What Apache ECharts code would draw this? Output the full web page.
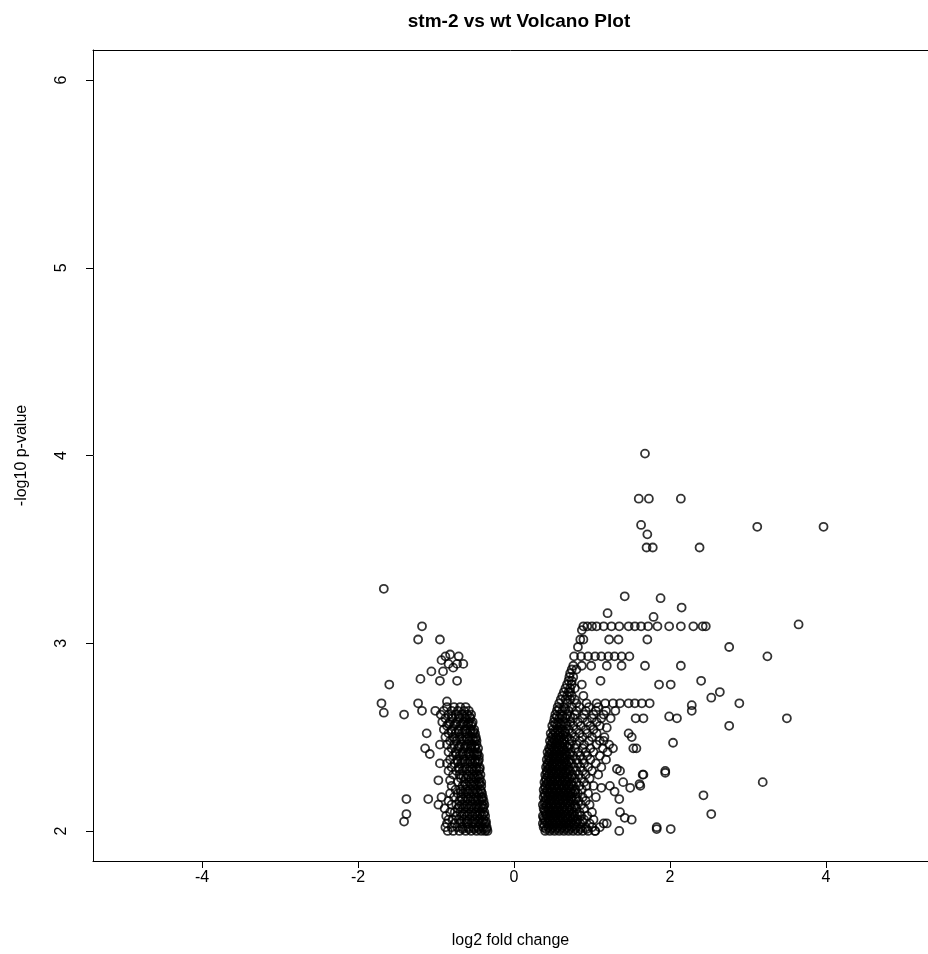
<!DOCTYPE html>
<html>
<head>
<meta charset="utf-8">
<script src="https://cdn.jsdelivr.net/npm/echarts@6/dist/echarts.min.js"></script>
<style>
  html, body { margin: 0; padding: 0; background: #fff; }
  #chart { width: 928px; height: 954px; }
</style>
</head>
<body>
<div id="chart"></div>
<script>
// tick labels
const xTicks = [-4, -2, 0, 2, 4];
const yTicks = [2, 3, 4, 5, 6];

// down-regulated core, rows of [ -log10 p, [log2 fold change ...] ]
const downRows = [
  [2.00, [-0.85, -0.78, -0.70, -0.62, -0.55, -0.48, -0.42, -0.37, -0.34]],
  [2.02, [-0.88, -0.80, -0.73, -0.66, -0.59, -0.52, -0.46, -0.40, -0.35]],
  [2.04, [-0.86, -0.76, -0.69, -0.61, -0.54, -0.49, -0.43, -0.38, -0.36]],
  [2.06, [-0.84, -0.79, -0.71, -0.64, -0.57, -0.50, -0.44, -0.39]],
  [2.08, [-0.87, -0.74, -0.67, -0.60, -0.53, -0.47, -0.41, -0.37]],
  [2.10, [-0.82, -0.76, -0.69, -0.62, -0.55, -0.49, -0.43, -0.38]],
  [2.12, [-0.89, -0.72, -0.65, -0.58, -0.51, -0.45, -0.40]],
  [2.14, [-0.80, -0.74, -0.67, -0.60, -0.54, -0.47, -0.41, -0.38]],
  [2.16, [-0.84, -0.70, -0.63, -0.56, -0.50, -0.44, -0.39]],
  [2.18, [-0.77, -0.68, -0.61, -0.55, -0.48, -0.42, -0.40]],
  [2.20, [-0.82, -0.72, -0.65, -0.58, -0.51, -0.45, -0.41]],
  [2.22, [-0.75, -0.69, -0.62, -0.56, -0.49, -0.43]],
  [2.24, [-0.80, -0.66, -0.60, -0.53, -0.47, -0.42]],
  [2.26, [-0.72, -0.64, -0.57, -0.51, -0.45, -0.42]],
  [2.28, [-0.68, -0.62, -0.55, -0.49, -0.44]],
  [2.30, [-0.78, -0.70, -0.60, -0.53, -0.47, -0.43]],
  [2.32, [-0.84, -0.74, -0.66, -0.58, -0.51, -0.45]],
  [2.34, [-0.80, -0.71, -0.63, -0.56, -0.49, -0.44]],
  [2.36, [-0.86, -0.76, -0.68, -0.60, -0.53, -0.47]],
  [2.38, [-0.82, -0.73, -0.65, -0.57, -0.50, -0.45]],
  [2.40, [-0.78, -0.70, -0.62, -0.55, -0.48, -0.45]],
  [2.42, [-0.84, -0.75, -0.66, -0.59, -0.52, -0.47]],
  [2.44, [-0.80, -0.72, -0.64, -0.56, -0.50, -0.46]],
  [2.46, [-0.86, -0.77, -0.68, -0.61, -0.54, -0.48]],
  [2.48, [-0.82, -0.74, -0.65, -0.58, -0.51, -0.48]],
  [2.50, [-0.88, -0.78, -0.70, -0.62, -0.55, -0.49]],
  [2.52, [-0.84, -0.75, -0.67, -0.60, -0.53, -0.50]],
  [2.54, [-0.90, -0.80, -0.71, -0.63, -0.56, -0.51]],
  [2.56, [-0.86, -0.77, -0.69, -0.61, -0.55]],
  [2.58, [-0.92, -0.82, -0.73, -0.65, -0.58, -0.53]],
  [2.60, [-0.88, -0.79, -0.70, -0.62, -0.56]],
  [2.62, [-0.94, -0.84, -0.75, -0.67, -0.60, -0.55]],
  [2.64, [-0.90, -0.80, -0.72, -0.64, -0.58]],
  [2.66, [-0.86, -0.77, -0.69, -0.62]]
];

// more down-regulated genes packed in the densest part
const downRowsB = [
  [2.01, [-0.66, -0.58, -0.51, -0.45, -0.39, -0.35]],
  [2.05, [-0.68, -0.60, -0.52, -0.46, -0.41, -0.36]],
  [2.09, [-0.64, -0.57, -0.50, -0.44, -0.39]],
  [2.13, [-0.70, -0.62, -0.55, -0.48, -0.43, -0.39]],
  [2.17, [-0.66, -0.59, -0.52, -0.46, -0.41]],
  [2.21, [-0.68, -0.60, -0.53, -0.47, -0.42]],
  [2.25, [-0.62, -0.55, -0.49, -0.44]],
  [2.29, [-0.65, -0.58, -0.51, -0.46]],
  [2.33, [-0.70, -0.61, -0.54, -0.48, -0.44]],
  [2.37, [-0.72, -0.63, -0.56, -0.50, -0.46]],
  [2.41, [-0.74, -0.66, -0.58, -0.51, -0.47]],
  [2.45, [-0.70, -0.62, -0.55, -0.50]],
  [2.49, [-0.76, -0.67, -0.60, -0.53, -0.49]],
  [2.53, [-0.80, -0.71, -0.63, -0.56, -0.52]],
  [2.57, [-0.84, -0.75, -0.66, -0.59, -0.54]],
  [2.61, [-0.80, -0.71, -0.63, -0.57]]
];

// down-regulated genes outside the core, [log2 fc, -log10 p]
const downSparse = [
  [-1.67, 3.29], [-1.18, 3.09], [-1.23, 3.02], [-0.95, 3.02],
  [-0.88, 2.93], [-0.82, 2.94], [-0.71, 2.93], [-0.93, 2.91], [-0.84, 2.89],
  [-0.73, 2.89], [-0.65, 2.89], [-0.78, 2.87], [-1.06, 2.85], [-0.91, 2.85],
  [-0.95, 2.80], [-0.73, 2.80], [-1.20, 2.81], [-1.60, 2.78],
  [-1.70, 2.68], [-1.67, 2.63], [-1.41, 2.62], [-1.23, 2.68], [-1.18, 2.64],
  [-1.01, 2.64], [-0.86, 2.69], [-1.12, 2.52], [-1.14, 2.44], [-1.08, 2.41],
  [-0.95, 2.36], [-0.95, 2.46], [-0.97, 2.27], [-0.82, 2.27], [-1.38, 2.17],
  [-1.10, 2.17], [-0.97, 2.14], [-0.93, 2.18], [-1.38, 2.09], [-1.41, 2.05]
];

// up-regulated core, rows of [ -log10 p, [log2 fold change ...] ]
const upRows = [
  [2.00, [0.40, 0.46, 0.52, 0.58, 0.64, 0.70, 0.76, 0.82, 0.88, 0.95, 1.04]],
  [2.02, [0.38, 0.44, 0.50, 0.56, 0.62, 0.68, 0.74, 0.80, 0.86, 0.92, 1.00, 1.10]],
  [2.04, [0.37, 0.43, 0.49, 0.55, 0.61, 0.67, 0.73, 0.79, 0.85, 0.97]],
  [2.06, [0.39, 0.45, 0.51, 0.57, 0.63, 0.69, 0.75, 0.82, 0.90, 1.02]],
  [2.08, [0.37, 0.42, 0.48, 0.54, 0.60, 0.66, 0.72, 0.78, 0.86, 0.94]],
  [2.10, [0.40, 0.46, 0.52, 0.58, 0.64, 0.70, 0.76, 0.84, 1.00]],
  [2.12, [0.38, 0.44, 0.50, 0.56, 0.62, 0.68, 0.74, 0.80, 0.90]],
  [2.14, [0.37, 0.42, 0.48, 0.54, 0.60, 0.66, 0.72, 0.78, 0.86, 0.97]],
  [2.16, [0.40, 0.46, 0.52, 0.58, 0.64, 0.70, 0.76, 0.83, 0.92]],
  [2.18, [0.38, 0.44, 0.50, 0.56, 0.62, 0.68, 0.74, 0.80, 0.88, 1.05]],
  [2.20, [0.39, 0.45, 0.51, 0.57, 0.63, 0.69, 0.75, 0.82, 0.95]],
  [2.22, [0.38, 0.43, 0.49, 0.55, 0.61, 0.67, 0.73, 0.79, 0.87]],
  [2.24, [0.40, 0.46, 0.52, 0.58, 0.64, 0.70, 0.76, 0.84, 0.93, 1.02]],
  [2.26, [0.39, 0.44, 0.50, 0.56, 0.62, 0.68, 0.74, 0.80, 0.90]],
  [2.28, [0.41, 0.47, 0.53, 0.59, 0.65, 0.71, 0.78, 0.86, 0.97]],
  [2.30, [0.40, 0.45, 0.51, 0.57, 0.63, 0.69, 0.75, 0.83, 0.92, 1.08]],
  [2.32, [0.42, 0.48, 0.54, 0.60, 0.66, 0.72, 0.80, 0.88, 1.00]],
  [2.34, [0.41, 0.46, 0.52, 0.58, 0.64, 0.70, 0.77, 0.85, 0.95, 1.12]],
  [2.36, [0.43, 0.49, 0.55, 0.61, 0.67, 0.74, 0.82, 0.90, 1.05]],
  [2.38, [0.42, 0.47, 0.53, 0.59, 0.65, 0.72, 0.80, 0.88, 0.98, 1.18]],
  [2.40, [0.44, 0.50, 0.56, 0.62, 0.68, 0.76, 0.85, 0.94, 1.10]],
  [2.42, [0.43, 0.48, 0.54, 0.60, 0.66, 0.73, 0.82, 0.92, 1.02, 1.20]],
  [2.44, [0.45, 0.51, 0.57, 0.63, 0.70, 0.78, 0.88, 0.98, 1.14]],
  [2.46, [0.47, 0.53, 0.59, 0.65, 0.72, 0.80, 0.90, 1.06, 1.22]],
  [2.48, [0.46, 0.52, 0.58, 0.64, 0.74, 0.84, 0.96, 1.10]],
  [2.50, [0.48, 0.54, 0.60, 0.68, 0.78, 0.88, 1.00, 1.16]],
  [2.52, [0.47, 0.53, 0.59, 0.66, 0.74, 0.84, 0.94, 1.06]],
  [2.54, [0.50, 0.56, 0.62, 0.70, 0.80, 0.92, 1.02]],
  [2.56, [0.49, 0.55, 0.61, 0.68, 0.76, 0.86, 0.98, 1.10]],
  [2.58, [0.51, 0.57, 0.64, 0.72, 0.82, 0.94, 1.06]],
  [2.60, [0.52, 0.58, 0.66, 0.76, 0.88, 1.00, 1.12, 1.24]],
  [2.62, [0.53, 0.60, 0.68, 0.78, 0.90, 1.02, 1.15]],
  [2.64, [0.55, 0.62, 0.70, 0.80, 0.92, 1.05, 1.18, 1.30]],
  [2.66, [0.56, 0.64, 0.74, 0.84, 0.96, 1.08]],
  [2.68, [0.58, 0.68, 0.80, 0.93, 1.06, 1.17, 1.27, 1.36, 1.47, 1.55, 1.64, 1.74]],
  [2.70, [0.60, 0.66, 0.72, 0.78]],
  [2.72, [0.62, 0.68, 0.74, 0.89]],
  [2.74, [0.64, 0.70, 0.72]],
  [2.76, [0.66, 0.72, 0.78]],
  [2.78, [0.68, 0.74, 0.87]],
  [2.80, [0.70, 0.74]],
  [2.82, [0.71, 0.76]],
  [2.84, [0.72]],
  [2.86, [0.74, 0.80]],
  [2.88, [0.76, 0.87, 0.99, 1.19, 1.38, 1.68, 2.14]],
  [2.93, [0.77, 0.86, 0.95, 1.04, 1.12, 1.21, 1.29, 1.38, 1.48]],
  [2.98, [0.82]],
  [3.02, [0.85, 0.89, 1.22, 1.34, 1.71]],
  [3.07, [0.87]],
  [3.09, [0.89, 0.94, 1.00, 1.06, 1.15, 1.25, 1.35, 1.47, 1.55, 1.63, 1.72, 1.84, 1.99, 2.14, 2.30, 2.42, 2.46]]
];

// more up-regulated genes packed in the densest part
const upRowsB = [
  [2.01, [0.41, 0.47, 0.53, 0.59, 0.65, 0.71, 0.78, 0.85]],
  [2.03, [0.39, 0.45, 0.51, 0.57, 0.63, 0.70, 0.77]],
  [2.05, [0.40, 0.46, 0.53, 0.59, 0.66, 0.73, 0.80, 0.88]],
  [2.07, [0.38, 0.44, 0.50, 0.56, 0.62, 0.69, 0.76]],
  [2.09, [0.41, 0.47, 0.53, 0.60, 0.67, 0.74, 0.81]],
  [2.11, [0.39, 0.45, 0.51, 0.57, 0.64, 0.71]],
  [2.13, [0.41, 0.47, 0.53, 0.59, 0.65, 0.72, 0.79]],
  [2.15, [0.39, 0.45, 0.51, 0.57, 0.63, 0.69]],
  [2.17, [0.41, 0.47, 0.53, 0.59, 0.66, 0.73, 0.80]],
  [2.19, [0.40, 0.46, 0.52, 0.59, 0.65, 0.71]],
  [2.21, [0.42, 0.48, 0.54, 0.60, 0.66, 0.72, 0.78]],
  [2.23, [0.40, 0.46, 0.52, 0.58, 0.64, 0.71]],
  [2.25, [0.42, 0.48, 0.55, 0.61, 0.67, 0.73]],
  [2.27, [0.41, 0.47, 0.53, 0.59, 0.66]],
  [2.29, [0.43, 0.49, 0.55, 0.62, 0.68, 0.74]],
  [2.31, [0.42, 0.48, 0.54, 0.60, 0.67]],
  [2.33, [0.44, 0.50, 0.56, 0.62, 0.69]],
  [2.35, [0.43, 0.49, 0.55, 0.62, 0.68]],
  [2.37, [0.45, 0.51, 0.57, 0.64, 0.70]],
  [2.39, [0.45, 0.51, 0.58, 0.64]],
  [2.41, [0.46, 0.52, 0.58, 0.65, 0.71]],
  [2.43, [0.46, 0.52, 0.58, 0.64]],
  [2.45, [0.48, 0.55, 0.61, 0.68]],
  [2.47, [0.49, 0.55, 0.62]],
  [2.49, [0.50, 0.57, 0.64, 0.71]],
  [2.51, [0.50, 0.57, 0.63]],
  [2.53, [0.52, 0.58, 0.65]],
  [2.57, [0.53, 0.60, 0.66]],
  [2.61, [0.55, 0.62, 0.72]],
  [2.65, [0.58, 0.66]]
];

// up-regulated genes outside the core, [log2 fc, -log10 p]
const upSparse = [
  [1.68, 4.01], [1.60, 3.77], [1.73, 3.77], [2.14, 3.77], [1.63, 3.63],
  [1.71, 3.58], [1.70, 3.51], [1.78, 3.51], [2.38, 3.51], [3.12, 3.62],
  [3.97, 3.62], [1.42, 3.25], [1.88, 3.24], [2.15, 3.19], [1.20, 3.16],
  [1.79, 3.14], [3.65, 3.10], [2.76, 2.98], [3.25, 2.93], [1.11, 2.80],
  [1.86, 2.78], [2.01, 2.78], [2.40, 2.80], [2.64, 2.74], [2.53, 2.71],
  [2.89, 2.68], [2.28, 2.67], [2.28, 2.64], [1.56, 2.60], [1.66, 2.60],
  [1.99, 2.61], [2.09, 2.60], [3.50, 2.60], [2.76, 2.56], [2.04, 2.47],
  [1.47, 2.52], [1.51, 2.50], [1.53, 2.44], [1.57, 2.44], [1.19, 2.55],
  [1.15, 2.48], [1.27, 2.44], [1.94, 2.31], [1.94, 2.32], [1.65, 2.30],
  [1.61, 2.25], [1.36, 2.32], [1.40, 2.26], [1.49, 2.23], [3.19, 2.26],
  [2.43, 2.19], [2.53, 2.09], [1.35, 2.00], [1.83, 2.01], [2.01, 2.01],
  [1.29, 2.21], [1.35, 2.17], [1.36, 2.10], [1.42, 2.07], [1.51, 2.06],
  [1.15, 2.04], [1.04, 2.00], [0.93, 2.01], [1.32, 2.33], [1.62, 2.24],
  [1.66, 2.30], [1.12, 2.23], [1.23, 2.24], [1.19, 2.04], [1.83, 2.02]
];

function flatten(rows) {
  const out = [];
  rows.forEach(function (r) {
    r[1].forEach(function (x) { out.push([x, r[0]]); });
  });
  return out;
}

const points = flatten(downRows).concat(flatten(downRowsB), downSparse,
  flatten(upRows), flatten(upRowsB), upSparse);

const font = 'Liberation Sans, Arial, sans-serif';
const chart = echarts.init(document.getElementById('chart'), null, { renderer: 'canvas' });

// R pads the range 4% each side; the right edge of the box is cut off by the image
const xMin = -5.4;
const xMax = 5.31;

chart.setOption({
  animation: false,
  backgroundColor: '#fff',
  title: {
    text: 'stm-2 vs wt Volcano Plot',
    left: 514,
    top: 7,
    textAlign: 'center',
    textStyle: { fontFamily: font, fontSize: 19, fontWeight: 'bold', color: '#000' }
  },
  grid: {
    left: 93,
    top: 50,
    right: 0,
    height: 812,
    show: false
  },
  xAxis: [{
    type: 'value',
    min: xMin,
    max: xMax,
    name: 'log2 fold change',
    nameLocation: 'middle',
    nameGap: 72,
    nameTextStyle: { fontFamily: font, fontSize: 16, color: '#000' },
    axisLine: { show: true, onZero: false, lineStyle: { color: '#000', width: 1 } },
    axisTick: { show: true, inside: false, length: 7, customValues: xTicks, lineStyle: { color: '#000' } },
    axisLabel: { customValues: xTicks, margin: 9, fontFamily: font, fontSize: 16, color: '#000' },
    splitLine: { show: false }
  }, {
    // top edge of the box
    type: 'value',
    position: 'top',
    min: xMin,
    max: xMax,
    axisLine: { show: true, onZero: false, lineStyle: { color: '#000', width: 1 } },
    axisTick: { show: false },
    axisLabel: { show: false },
    splitLine: { show: false }
  }],
  yAxis: {
    type: 'value',
    min: 1.84,
    max: 6.16,
    name: '-log10 p-value',
    nameLocation: 'middle',
    nameGap: 63,
    nameRotate: 90,
    nameTextStyle: { fontFamily: font, fontSize: 16, color: '#000' },
    axisLine: { show: true, onZero: false, lineStyle: { color: '#000', width: 1 } },
    axisTick: { show: true, inside: false, length: 7, customValues: yTicks, lineStyle: { color: '#000' } },
    axisLabel: { customValues: yTicks, rotate: 90, margin: 23, fontFamily: font, fontSize: 16, color: '#000' },
    splitLine: { show: false }
  },
  series: [{
    type: 'scatter',
    xAxisIndex: 0,
    data: points,
    symbol: 'circle',
    symbolSize: 8,
    itemStyle: { color: 'rgba(0,0,0,0)', borderColor: '#000', borderWidth: 1.8 },
    emphasis: { disabled: true },
    silent: true
  }]
});
</script>
</body>
</html>
